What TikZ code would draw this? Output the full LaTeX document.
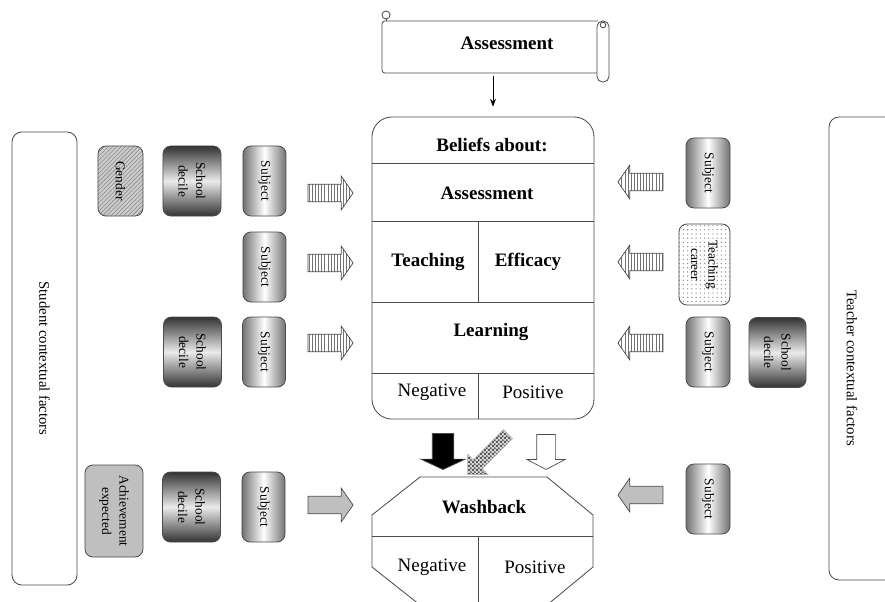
\documentclass[tikz,border=0pt]{standalone}
\usepackage{fontspec}
\setmainfont{Liberation Serif}
\usetikzlibrary{arrows.meta,calc,positioning,shapes.arrows,patterns}
\pgfdeclarepatternformonly{finechecker}{\pgfpointorigin}{\pgfpoint{3pt}{3pt}}{\pgfpoint{3pt}{3pt}}{
  \pgfpathrectangle{\pgfpointorigin}{\pgfpoint{1.5pt}{1.5pt}}
  \pgfpathrectangle{\pgfpoint{1.5pt}{1.5pt}}{\pgfpoint{1.5pt}{1.5pt}}
  \pgfusepath{fill}
}
\pgfdeclarepatternformonly{finevlines}{\pgfpoint{-1pt}{-1pt}}{\pgfpoint{1pt}{1pt}}{\pgfpoint{2.2pt}{1pt}}{
  \pgfsetlinewidth{0.5pt}
  \pgfpathmoveto{\pgfpoint{0pt}{-1pt}}
  \pgfpathlineto{\pgfpoint{0pt}{1pt}}
  \pgfusepath{stroke}
}
\tikzset{
boxline/.style={
  draw=black!70,
  line width=0.6pt,
  }
}
\tikzset{
factor/.style={
  boxline,
  rectangle,
  rounded corners=0.2cm,
  rotate=-90,
  align=center,
  inner sep=1pt,
  minimum width=1.75cm,
  font=\fontsize{9.5}{12.5}\selectfont,
  },
subject/.style={factor, minimum height=1.075cm, left color=black!55, right color=black!55, middle color=white},
decile/.style={factor, minimum height=1.45cm, top color=black!80, bottom color=black!80, middle color=black!8},
sidebox/.style={
  boxline,
  rectangle,
  rounded corners=0.25cm,
  rotate=-90,
  minimum width=11.325cm,
  minimum height=1.625cm,
  font=\fontsize{10.5}{12}\selectfont,
  },
bigtext/.style={font=\fontsize{13.5}{16}\selectfont\bfseries},
celltext/.style={font=\fontsize{13.5}{16}\selectfont},
blockarrow/.style={
  single arrow,
  draw=black!70,
  line width=0.5pt,
  inner xsep=0pt,
  },
sidearrow/.style={blockarrow, minimum height=1.125cm, inner ysep=0.21cm, single arrow head extend=0.2cm, single arrow tip angle=110},
striped/.style={sidearrow, preaction={fill=white}, pattern=finevlines, pattern color=black!55},
grayarrow/.style={sidearrow, fill=black!25},
myline/.style={
  line width=0.6pt,
  -{Stealth[length=2mm]}
  }
}

\begin{document}
\begin{tikzpicture}[x=0.025cm,y=-0.025cm]
    \useasboundingbox (0,0) rectangle (885,601);
    \clip (0,0) rectangle (885,601);

    % scroll on top
    \draw[boxline, rounded corners=2pt] (598,21) -- (382,21) -- (382,73) -- (597,73);
    \draw[boxline] (386,15) circle[radius=0.1cm];
    \draw[boxline] (386,19) -- (386,21);
    \draw[boxline, fill=white, rounded corners=4pt] (597,21) rectangle (609,82);
    \draw[boxline] (603,25) circle[radius=0.07cm];
    \node[bigtext] (scroll) at (507,43) {Assessment};
    \coordinate (scrollfoot) at (493,73);

    % beliefs box
    \node[boxline, rounded corners=0.5cm, minimum width=5.55cm, minimum height=7.55cm] (beliefs) at (483,268) {};
    \draw[boxline] (beliefs.west |- 0,163) -- (beliefs.east |- 0,163);
    \draw[boxline] (beliefs.west |- 0,221) -- (beliefs.east |- 0,221);
    \draw[boxline] (beliefs.west |- 0,302) -- (beliefs.east |- 0,302);
    \draw[boxline] (beliefs.west |- 0,373) -- (beliefs.east |- 0,373);
    \draw[boxline] (478,221) -- (478,302);
    \draw[boxline] (478,373) -- (beliefs.south -| 478,0);
    \node[bigtext] (beltitle) at (492,145) {Beliefs about:};
    \node[bigtext] (belassess) at (487,193) {Assessment};
    \node[bigtext] (belteach) at (428,262) {Teaching};
    \node[bigtext] (beleff) at (528,262) {Efficacy};
    \node[bigtext] (bellearn) at (491,332) {Learning};
    \node[celltext] (belneg) at (432,392) {Negative};
    \node[celltext] (belpos) at (533,392) {Positive};

    \draw[myline, shorten <=2pt, shorten >=7pt] (scrollfoot) -- (scrollfoot |- beliefs.north);

    % washback
    \draw[boxline] (420,477) -- (547,477) -- (593,515) -- (593,567) -- (547,605)
        -- (420,605) -- (372,567) -- (372,515) -- cycle;
    \draw[boxline] (372,536) -- (593,536);
    \draw[boxline] (478,536) -- (478,605);
    \node[bigtext] (washback) at (484,507) {Washback};
    \node[celltext] (washneg) at (432,567) {Negative};
    \node[celltext] (washpos) at (535,567) {Positive};

    % arrows into washback
    \node[blockarrow, fill=black, rotate=-90, minimum height=0.9cm, inner ysep=0.26cm,
        single arrow head extend=0.29cm, single arrow tip angle=130] (negarrow) at (443,449) {};
    \node[blockarrow, fill=white, rotate=-90, minimum height=0.875cm, inner ysep=0.225cm,
        single arrow head extend=0.24cm, single arrow tip angle=125] (posarrow) at (546,449.5) {};
    \node[blockarrow, draw=black!30, preaction={fill=black!15}, pattern=finechecker, pattern color=black!65, rotate=225,
        minimum height=1.425cm, inner ysep=0.15cm, single arrow head extend=0.2cm] (mixarrow) at (490,452) {};

    % student side
    \node[sidebox] (student) at (44.5,358.5) {Student contextual factors};
    \node[factor, minimum height=1.125cm, preaction={fill=black!20}, pattern=north east lines,
        pattern color=black!45] (gender) at (120.5,181) {Gender};
    \node[decile] (sdecile1) at (192,181) {School\\decile};
    \node[subject] (ssubj1) at (264.5,181) {Subject};
    \node[subject] (ssubj2) at (264.5,267) {Subject};
    \node[decile] (sdecile3) at (192.5,352) {School\\decile};
    \node[subject] (ssubj3) at (264,352) {Subject};
    \node[factor, minimum width=2.3cm, minimum height=1.45cm, fill=black!25] (achieve) at (114,511) {Achievement\\expected};
    \node[decile] (sdecile4) at (191.5,507) {School\\decile};
    \node[subject] (ssubj4) at (263.5,507) {Subject};

    \node[striped] (sarrow1) at (327.5,193) {};
    \node[striped] (sarrow2) at (327.5,263) {};
    \node[striped] (sarrow3) at (327.5,343) {};
    \node[grayarrow] (sarrow4) at (327.5,505) {};

    % teacher side
    \draw[boxline, rounded corners=0.25cm] (895,117) -- (829,117) -- (829,580) -- (895,580);
    \node[rotate=-90, font=\fontsize{10.5}{12}\selectfont] (teacher) at (852,368) {Teacher contextual factors};
    \node[subject, minimum height=1.1cm] (tsubj1) at (708,173) {Subject};
    \node[factor, minimum width=2.025cm, minimum height=1.275cm, preaction={fill=white},
        pattern=dots, pattern color=black!45] (career) at (704.5,264.5) {Teaching\\career};
    \node[subject, minimum height=1.1cm] (tsubj3) at (708,352) {Subject};
    \node[decile, minimum height=1.425cm] (tdecile3) at (777.5,352.5) {School\\decile};
    \node[subject, minimum height=1.1cm] (tsubj4) at (708,499) {Subject};

    \node[striped, rotate=180] (tarrow1) at (643.5,182) {};
    \node[striped, rotate=180] (tarrow2) at (643.5,262) {};
    \node[striped, rotate=180] (tarrow3) at (643.5,343) {};
    \node[grayarrow, rotate=180] (tarrow4) at (643.5,495) {};
\end{tikzpicture}
\end{document}
